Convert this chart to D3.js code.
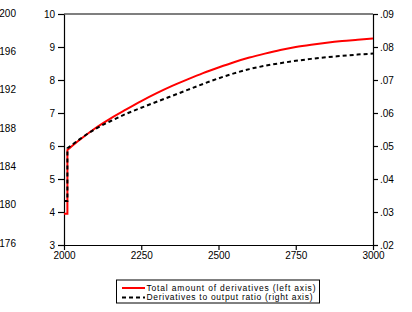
<!DOCTYPE html>
<html><head><meta charset="utf-8">
<script src="https://cdn.jsdelivr.net/npm/d3@7"></script>
<style>body{margin:0;background:#fff}svg{display:block}text{font-family:"Liberation Sans",Arial,sans-serif;fill:#000}</style>
</head><body><svg id="c" width="412" height="312"></svg>
<script>
const years = [2000, 2011, 2011, 2050, 2100, 2150, 2200, 2250, 2300, 2350, 2400, 2450, 2500, 2550, 2600, 2650, 2700, 2750, 2800, 2850, 2900, 2950, 3000];
const totalDerivatives = [3.95, 3.95, 5.88, 6.18, 6.53, 6.83, 7.10, 7.36, 7.60, 7.82, 8.02, 8.21, 8.38, 8.54, 8.68, 8.80, 8.91, 9.00, 9.07, 9.13, 9.18, 9.22, 9.26];
const derivRatio = [0.0333, 0.0333, 0.0493, 0.0520, 0.0551, 0.0575, 0.0597, 0.0616, 0.0634, 0.0652, 0.0670, 0.0688, 0.0705, 0.0720, 0.0733, 0.0743, 0.0751, 0.0758, 0.0764, 0.0769, 0.0773, 0.0777, 0.0780];
const xTicks = [2000, 2250, 2500, 2750, 3000];
const leftTicks = [3, 4, 5, 6, 7, 8, 9, 10];
const rightTicks = [0.02, 0.03, 0.04, 0.05, 0.06, 0.07, 0.08, 0.09];
const neighbourLabels = ["200", "196", "192", "188", "184", "180", "176"];
const legendLabels = ["Total amount of derivatives (left axis)", "Derivatives to output ratio (right axis)"];

const svg = d3.select("#c");
const L = 64, R = 373, T = 14, B = 245;
const x = d3.scaleLinear().domain([2000, 3000]).range([L, R]);
const yL = d3.scaleLinear().domain([3, 10]).range([B, T]);
const yR = d3.scaleLinear().domain([0.02, 0.09]).range([B, T]);

// labels of the neighbouring panel at the left edge
const nb = d3.scaleLinear().domain([0, neighbourLabels.length - 1]).range([13, 243]);
svg.selectAll("text.nb").data(neighbourLabels).join("text").attr("class", "nb")
  .attr("x", 16).attr("y", (d, i) => nb(i)).attr("dy", "0.35em")
  .attr("text-anchor", "end").style("font-size", "10px").text(d => d);

// frame top
svg.append("line").attr("x1", L).attr("x2", R).attr("y1", T).attr("y2", T).attr("stroke", "#000").attr("stroke-width", 1.2);

const fmtR = d => d3.format(".2f")(d).replace(/^0/, "");
const gl = svg.append("g").attr("transform", `translate(${L},0)`)
  .call(d3.axisLeft(yL).tickValues(leftTicks).tickFormat(d3.format("d")).tickSize(6).tickSizeOuter(0).tickPadding(3));
const gr = svg.append("g").attr("transform", `translate(${R},0)`)
  .call(d3.axisRight(yR).tickValues(rightTicks).tickFormat(fmtR).tickSize(5).tickSizeOuter(0).tickPadding(2));
const gb = svg.append("g").attr("transform", `translate(0,${B})`)
  .call(d3.axisBottom(x).tickValues(xTicks).tickFormat(d3.format("d")).tickSize(5).tickSizeOuter(0).tickPadding(2));
[gl, gr, gb].forEach(g => {
  g.selectAll("path,line").attr("stroke", "#000").attr("stroke-width", 1.2);
  g.selectAll("text").style("font-size", "10px").attr("fill", "#000").style("font-family", "Liberation Sans, Arial, sans-serif");
});

const idx = years.map((d, i) => i);
const jump = 2;
function draw(vals, yScale, color, dash) {
  const stepPart = d3.line().x(i => x(years[i])).y(i => yScale(vals[i]));
  const curvePart = d3.line().x(i => x(years[i])).y(i => yScale(vals[i])).curve(d3.curveMonotoneX);
  const p = stepPart(idx.slice(0, jump + 1)) + "L" + curvePart(idx.slice(jump)).slice(1);
  svg.append("path").attr("d", p).attr("fill", "none").attr("stroke", color)
    .attr("stroke-width", 2).attr("stroke-dasharray", dash || null);
}
draw(totalDerivatives, yL, "#ff0000", null);
draw(derivRatio, yR, "#000", "4,3");

// legend
const lg = svg.append("g");
lg.append("rect").attr("x", 116.5).attr("y", 280).attr("width", 203).attr("height", 23)
  .attr("fill", "#fff").attr("stroke", "#000").attr("stroke-width", 1);
const styles = [{c: "#ff0000", d: null}, {c: "#000", d: "4,3"}];
const widths = [169, 166];
legendLabels.forEach((t, i) => {
  const yy = 288 + i * 9.5;
  lg.append("line").attr("x1", 122).attr("x2", 145).attr("y1", yy).attr("y2", yy)
    .attr("stroke", styles[i].c).attr("stroke-width", 2).attr("stroke-dasharray", styles[i].d);
  lg.append("text").attr("x", 146.5).attr("y", yy).attr("dy", "0.35em").style("font-size", "8.5px")
    .attr("textLength", widths[i]).attr("lengthAdjust", "spacing").text(t);
});
</script></body></html>
